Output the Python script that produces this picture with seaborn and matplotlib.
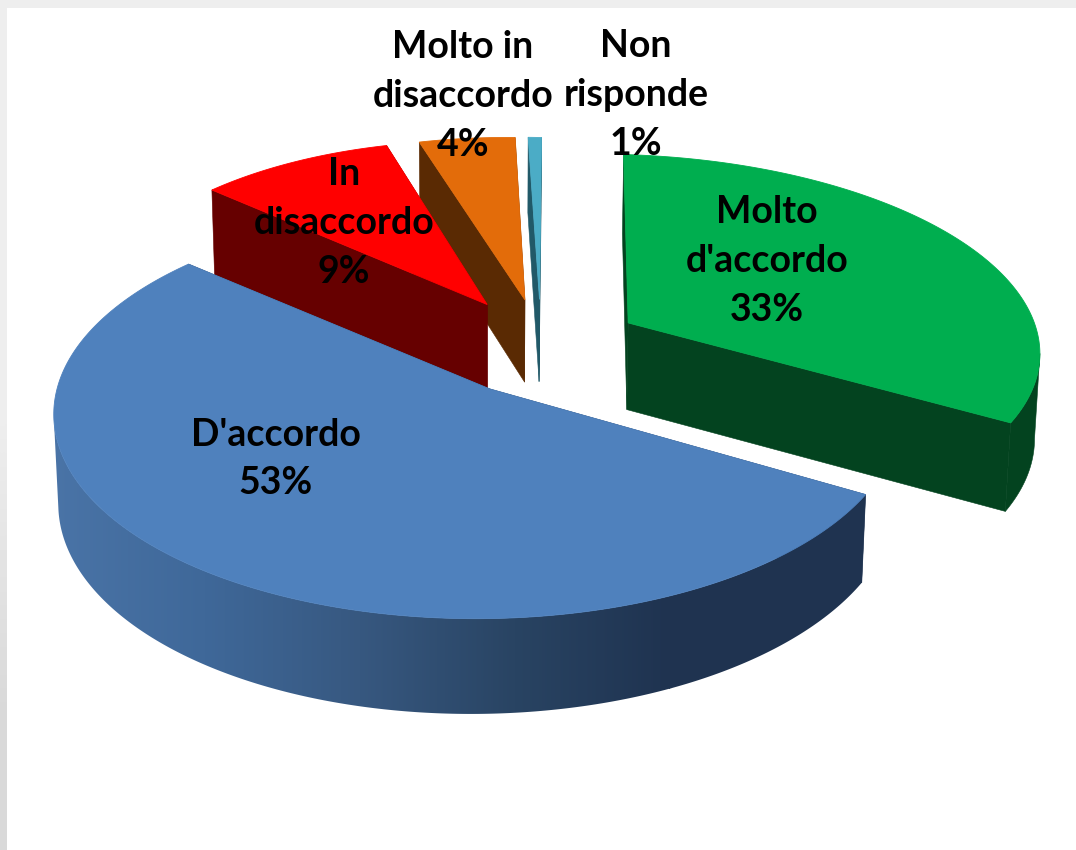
import numpy as np
import matplotlib
matplotlib.use('Agg')
import matplotlib.pyplot as plt
from matplotlib.patches import Polygon
import seaborn as sns

# data (labels show the rounded value)
categorie = ["Molto\nd'accordo", "D'accordo", "In\ndisaccordo", "Molto in\ndisaccordo", "Non\nrisponde"]
valori = [33.0, 52.9, 9.0, 4.4, 0.6]

colori_top = ['#00ae4f', '#4f81bd', '#ff0000', '#e36c0a', '#4bacc6']
colori_lato = ['#03431f', '#1f3350', '#660000', '#5a2a03', '#215968']

# offset of each slice on the pie plane (x, y), D'accordo stays at the centre
esplosione = [(0.346, 0.344), (0.0, 0.0), (-0.007, 0.44), (0.088, 0.467), (0.125, 0.47)]
raggio_x = [1.06, 1.0, 0.96, 0.98, 1.0]
raggio_y = [1.02, 1.0, 1.0, 1.0, 1.0]
# wall depth, the red one runs on behind the blue slice
profondita = [1.05, 1.0, 1.12, 1.0, 1.0]

# label centres in pixels
pos_etichette = [(767, 261), (276, 459), (344, 223), (463, 96), (636, 95)]

# view of the pie, tuned by eye on the reference
CX, CY = 490, 389
A, B = 420, 202
KY, KX, KZ = 0.12, 0.03, 0.01
H = 87
ROT = 1.5


def proietta(x, y, z=0.0):
    # simple perspective: what is further back or lower gets smaller
    s = 1.0 / (1.0 + KY * y + KX * x + KZ * z)
    return CX + A * x * s, CY - B * y * s + H * z * s


sns.set_theme(style="white")
plt.rcParams['font.family'] = ['Lato', 'DejaVu Sans']

fig = plt.figure(figsize=(10.76, 8.5), dpi=100)
ax = fig.add_axes([0, 0, 1, 1])
ax.axis('off')

# paper border on the top and left
ax.fill([0, 1076, 1076, 0], [0, 0, 8, 8], color='#eeeeee', lw=0, zorder=1)
ax.imshow(np.array([[0.93], [0.93], [0.85]]), cmap='gray', vmin=0, vmax=1, extent=[0, 7, 850, 0],
          aspect='auto', interpolation='bilinear', zorder=1)

# blue side wall goes dark from left to right
sfumatura = sns.blend_palette(['#4a74a7', '#3f6899', '#375880', '#294463', '#1f3350'], as_cmap=True)

angoli = ROT + np.concatenate([[0], np.cumsum(valori)]) * 3.6
z = 2

# back to front, the blue slice covers everything else
for i in [4, 3, 2, 0, 1]:
    a0, a1 = np.radians(angoli[i]), np.radians(angoli[i + 1])
    t = np.linspace(a0, a1, 300)
    ox, oy = esplosione[i]
    rx, ry = raggio_x[i], raggio_y[i]
    d = profondita[i]
    xs, ys = ox + rx * np.sin(t), oy + ry * np.cos(t)

    # radial walls
    for a in (a0, a1):
        ex = np.array([ox, ox + rx * np.sin(a), ox + rx * np.sin(a), ox])
        ey = np.array([oy, oy + ry * np.cos(a), oy + ry * np.cos(a), oy])
        px, py = proietta(ex, ey, np.array([0, 0, d, d]))
        ax.fill(px, py, color=colori_lato[i], lw=0.4, zorder=z)
        z += 1

    # outer wall, only the part that faces the viewer (green and blue)
    px0, py0 = proietta(xs, ys, 0.0)
    px1, py1 = proietta(xs, ys, d)
    if i == 0:
        n0, n1 = np.argmax(px0), np.argmax(px1)
        giro = np.column_stack([np.r_[px0[n0:], px1[n1:][::-1]], np.r_[py0[n0:], py1[n1:][::-1]]])
        ax.fill(giro[:, 0], giro[:, 1], color=colori_lato[i], lw=0.4, zorder=z)
    elif i == 1:
        n0, n1 = np.argmin(px0), np.argmin(px1)
        giro = np.column_stack([np.r_[px0[:n0], px1[:n1][::-1]], np.r_[py0[:n0], py1[:n1][::-1]]])
        clip = Polygon(giro, closed=True, transform=ax.transData, fc='none', ec='none')
        ax.add_patch(clip)
        img = ax.imshow(np.linspace(0, 1, 256)[None, :], cmap=sfumatura, extent=[50, 670, 850, 0],
                        aspect='auto', zorder=z)
        img.set_clip_path(clip)
        # right of the gradient the wall stays flat
        ax.fill(giro[:, 0].clip(min=669), giro[:, 1], color=colori_lato[i], lw=0, zorder=z)
    z += 1

    # top face
    px, py = proietta(np.r_[ox, xs], np.r_[oy, ys])
    ax.fill(px, py, facecolor=colori_top[i], edgecolor=colori_top[i], lw=0.6, zorder=z)
    z += 1

for nome, val, (x, y) in zip(categorie, valori, pos_etichette):
    ax.text(x, y, f"{nome}\n{round(val)}%", ha='center', va='center', fontsize=27, fontweight='bold',
            color='black', linespacing=1.53, zorder=z)

ax.set_xlim(0, 1076)
ax.set_ylim(850, 0)

fig.savefig('out.png', dpi=100)
plt.close()
